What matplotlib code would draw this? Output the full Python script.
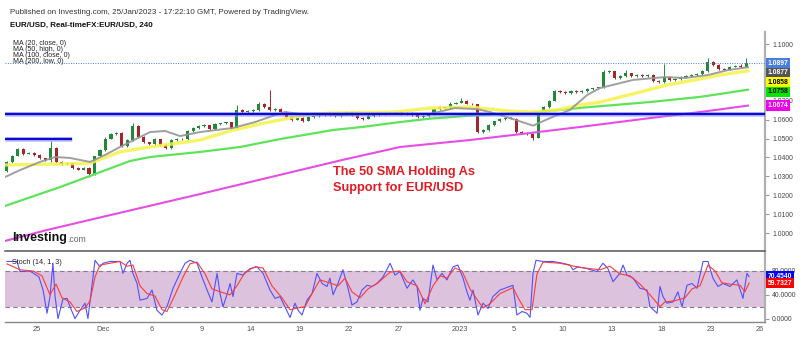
import matplotlib
matplotlib.use("Agg")
import matplotlib.pyplot as plt
from matplotlib.transforms import blended_transform_factory

plt.rcParams['font.family'] = ['Liberation Sans', 'DejaVu Sans']

# ---------------- data ----------------
first_open = 1.0330
candle_start_day = -1.833      # trading-day index of first candle (0 = 25 Nov)
candles_per_day = 3

closes = [
    1.0375, 1.0410, 1.0445, 1.0420, 1.0425, 1.0415, 1.0395, 1.0385, 1.0450, 1.0375,
    1.0365, 1.0370, 1.0345, 1.0335, 1.0345, 1.0310, 1.0405, 1.0440, 1.0500, 1.0525,
    1.0530, 1.0460, 1.0490, 1.0565, 1.0510, 1.0480, 1.0470, 1.0495, 1.0465, 1.0450,
    1.0490, 1.0500, 1.0495, 1.0540, 1.0555, 1.0565, 1.0570, 1.0550, 1.0575, 1.0580,
    1.0585, 1.0555, 1.0650, 1.0640, 1.0645, 1.0650, 1.0685, 1.0665, 1.0650, 1.0655,
    1.0640, 1.0615, 1.0600, 1.0610, 1.0595, 1.0615, 1.0620, 1.0630, 1.0625, 1.0635,
    1.0620, 1.0630, 1.0640, 1.0625, 1.0610, 1.0605, 1.0620, 1.0625, 1.0630, 1.0635,
    1.0635, 1.0640, 1.0630, 1.0635, 1.0625, 1.0615, 1.0620, 1.0630, 1.0655, 1.0665,
    1.0660, 1.0685, 1.0690, 1.0700, 1.0685, 1.0680, 1.0535, 1.0545, 1.0570, 1.0590,
    1.0605, 1.0610, 1.0605, 1.0535, 1.0530, 1.0525, 1.0505, 1.0640, 1.0665, 1.0700,
    1.0750, 1.0745, 1.0740, 1.0750, 1.0745, 1.0750, 1.0760, 1.0765, 1.0770, 1.0850,
    1.0855, 1.0820, 1.0830, 1.0845, 1.0830, 1.0835, 1.0830, 1.0835, 1.0805, 1.0800,
    1.0825, 1.0810, 1.0815, 1.0825, 1.0830, 1.0835, 1.0840, 1.0855, 1.0905, 1.0890,
    1.0870, 1.0865, 1.0880, 1.0885, 1.0880, 1.0897,
]
wick_up_pips = [
    4, 5, 6, 4, 4, 3, 4, 4, 35, 5,
    4, 4, 3, 4, 5, 4, 5, 6, 6, 5,
    4, 4, 6, 15, 4, 5, 4, 6, 4, 4,
    5, 4, 5, 6, 5, 4, 5, 4, 5, 4,
    4, 4, 25, 5, 4, 5, 10, 4, 90, 5,
    4, 4, 5, 4, 4, 6, 4, 5, 4, 6,
    4, 5, 6, 4, 5, 4, 8, 4, 5, 4,
    5, 4, 4, 6, 4, 4, 5, 6, 6, 5,
    4, 6, 5, 12, 4, 5, 4, 5, 6, 5,
    5, 4, 4, 4, 5, 4, 4, 6, 5, 6,
    6, 5, 4, 5, 4, 6, 5, 4, 5, 15,
    6, 4, 5, 15, 4, 5, 4, 5, 4, 4,
    70, 4, 5, 5, 4, 6, 5, 6, 20, 6,
    4, 5, 6, 5, 8, 28,
]
wick_dn_pips = [
    6, 4, 4, 5, 4, 5, 4, 5, 8, 4,
    5, 4, 5, 4, 4, 14, 4, 4, 5, 4,
    5, 6, 4, 4, 5, 4, 5, 4, 5, 6,
    4, 5, 4, 4, 5, 4, 4, 5, 4, 5,
    4, 5, 4, 5, 4, 5, 4, 6, 4, 5,
    5, 6, 5, 4, 6, 4, 5, 4, 5, 4,
    5, 4, 5, 6, 5, 6, 4, 5, 4, 5,
    4, 5, 5, 4, 5, 6, 4, 5, 4, 4,
    5, 4, 5, 4, 5, 4, 8, 6, 4, 5,
    4, 5, 4, 5, 4, 5, 15, 4, 5, 4,
    4, 5, 4, 4, 5, 4, 4, 5, 4, 4,
    5, 4, 5, 4, 5, 4, 5, 4, 5, 4,
    5, 4, 5, 4, 5, 4, 4, 5, 4, 5,
    5, 4, 5, 4, 5, 4,
]

ma20_day = [-1.95, -1.03, 0.18, 1.10, 2.01, 3.23, 4.14, 5.05, 6.27, 6.88, 7.79, 8.70,
            9.92, 11.93, 13.27, 14.49, 15.09, 16.01, 18.44, 21.49, 23.92, 25.44, 26.84,
            27.57, 28.79, 30.19, 31.22, 32.44, 33.48, 34.27, 36.28, 38.22, 39.44, 40.84,
            42.06, 43.27]
ma20 = [1.0296, 1.0333, 1.0376, 1.0402, 1.0397, 1.0376, 1.0413, 1.0455, 1.0508, 1.0534,
        1.0540, 1.0513, 1.0534, 1.0556, 1.0587, 1.0624, 1.0640, 1.0630, 1.0624, 1.0630,
        1.0630, 1.0661, 1.0655, 1.0640, 1.0608, 1.0568, 1.0608, 1.0651, 1.0730, 1.0767,
        1.0810, 1.0825, 1.0820, 1.0836, 1.0862, 1.0877]

ma50_day = [-1.95, 1.40, 3.23, 5.05, 6.88, 9.92, 11.75, 13.57, 14.79, 16.31, 17.83, 21.79,
            23.92, 26.35, 27.57, 28.79, 30.19, 31.65, 33.05, 34.27, 36.28, 38.34, 40.35,
            41.57, 43.27]
ma50 = [1.0360, 1.0365, 1.0370, 1.0429, 1.0455, 1.0492, 1.0540, 1.0577, 1.0598, 1.0624,
        1.0635, 1.0640, 1.0661, 1.0667, 1.0656, 1.0645, 1.0640, 1.0651, 1.0677, 1.0693,
        1.0736, 1.0783, 1.0815, 1.0836, 1.0858]

ma100_day = [-1.95, 1.40, 3.23, 5.66, 6.88, 9.92, 12.36, 14.79, 18.02, 19.78, 22.09, 23.92,
             26.84, 30.01, 33.05, 37.31, 40.35, 43.27]
ma100 = [1.0143, 1.0243, 1.0302, 1.0381, 1.0402, 1.0429, 1.0455, 1.0497, 1.0545, 1.0561,
         1.0587, 1.0605, 1.0624, 1.0635, 1.0662, 1.0693, 1.0720, 1.0758]

ma200_day = [-1.95, 0.61, 3.83, 9.92, 16.01, 18.56, 22.09, 26.35, 30.01, 33.05, 37.31,
             40.35, 43.27]
ma200 = [0.9958, 1.0016, 1.0082, 1.0206, 1.0333, 1.0386, 1.0455, 1.0492, 1.0529, 1.0561,
         1.0608, 1.0640, 1.0674]

support_level = 1.0630
old_level = 1.0500
old_level_end_day = 2.13

stoch_k_day = [
    -1.83, -1.22, -1.03, -0.43, 0.12, 0.37, 0.61, 0.79, 0.97, 1.10,
    1.28, 1.58, 1.83, 2.01, 2.31, 2.62, 2.92, 3.10, 3.53, 3.83,
    4.02, 4.44, 5.05, 5.23, 5.48, 5.66, 5.84, 6.09, 6.27, 6.70,
    7.00, 7.30, 7.61, 7.91, 8.28, 8.70, 9.01, 9.31, 9.74, 10.04,
    10.35, 10.65, 10.96, 11.14, 11.32, 11.56, 11.75, 11.93, 12.17, 12.54,
    12.96, 13.39, 13.76, 14.18, 14.49, 14.79, 15.09, 15.40, 15.70, 15.89,
    16.13, 16.43, 16.74, 17.04, 17.35, 17.65, 17.83, 18.02, 18.32, 18.62,
    18.93, 19.17, 19.48, 19.78, 20.09, 20.39, 20.69, 21.06, 21.49, 21.79,
    22.09, 22.52, 22.88, 23.13, 23.31, 23.49, 23.80, 24.10, 24.35, 24.65,
    24.95, 25.32, 25.62, 25.93, 26.17, 26.35, 26.54, 26.84, 27.15, 27.45,
    27.75, 28.18, 28.97, 29.21, 29.52, 29.82, 30.01, 30.19, 30.37, 30.80,
    31.41, 32.01, 32.44, 32.62, 32.93, 33.48, 34.08, 34.45, 34.75, 35.06,
    35.48, 35.67, 35.91, 36.28, 36.70, 37.13, 37.31, 37.74, 37.92, 38.10,
    38.34, 38.71, 39.01, 39.26, 39.56, 39.87, 40.17, 40.54, 40.84, 41.14,
    41.45, 41.75, 42.18, 42.60, 42.97, 43.21, 43.34,
]
stoch_k = [
    96, 96, 79, 80, 70, 48, 9, 37, 93, 37,
    0, 33, 34, 20, 0, 14, 26, 0, 98, 87,
    93, 96, 96, 76, 93, 98, 76, 59, 31, 34,
    48, 14, 6, 20, 51, 76, 93, 98, 93, 70,
    48, 28, 76, 42, 20, 40, 59, 37, 76, 73,
    84, 87, 76, 48, 34, 37, 20, 2, 26, 14,
    6, 31, 42, 76, 59, 54, 68, 40, 59, 82,
    51, 23, 28, 48, 56, 54, 59, 70, 93, 73,
    79, 51, 65, 54, 14, 34, 28, 90, 65, 76,
    65, 87, 90, 68, 45, 31, 48, 6, 26, 17,
    37, 48, 56, 6, 12, 9, 2, 76, 98, 96,
    96, 93, 90, 82, 87, 84, 79, 93, 84, 62,
    76, 90, 73, 68, 51, 48, 20, 9, 54, 37,
    26, 28, 45, 20, 56, 59, 51, 96, 96, 68,
    54, 59, 54, 65, 34, 76, 70.454,
]
stoch_d_day = [
    -1.83, -1.03, -0.24, 0.30, 0.79, 1.16, 1.52, 2.01, 2.43, 2.92,
    3.23, 3.53, 3.83, 4.44, 5.05, 5.48, 5.84, 6.27, 6.70, 7.18,
    7.61, 7.91, 8.40, 8.89, 9.31, 9.74, 10.23, 10.65, 11.14, 11.75,
    12.17, 12.66, 13.27, 13.76, 14.30, 14.91, 15.40, 15.89, 16.31, 16.74,
    17.22, 17.83, 18.32, 18.75, 19.17, 19.66, 20.15, 20.75, 21.49, 22.09,
    22.52, 23.13, 23.62, 24.10, 24.53, 24.95, 25.44, 25.87, 26.35, 26.84,
    27.15, 27.57, 28.18, 28.97, 29.28, 29.70, 30.13, 30.43, 30.80, 31.83,
    33.05, 34.27, 34.87, 35.48, 36.09, 36.70, 37.31, 37.92, 38.22, 38.83,
    39.44, 39.87, 40.35, 40.84, 41.27, 41.69, 42.18, 42.79, 43.09, 43.34,
]
stoch_d = [
    92, 82, 80, 72, 40, 58, 35, 28, 12, 18,
    30, 70, 90, 93, 96, 88, 90, 55, 42, 38,
    15, 12, 40, 70, 92, 95, 75, 50, 45, 40,
    55, 78, 87, 85, 55, 35, 15, 18, 20, 42,
    65, 60, 55, 68, 45, 35, 50, 60, 78, 80,
    62, 55, 25, 55, 72, 68, 85, 80, 50, 30,
    18, 25, 42, 52, 35, 15, 15, 75, 95, 93,
    86, 82, 88, 75, 72, 58, 40, 20, 28, 30,
    35, 50, 55, 90, 80, 60, 58, 56, 45, 59.7327,
]

date_tick_day = [0, 4, 7, 10, 13, 16, 19, 22, 25.75, 29, 32, 35, 38, 41, 44]
date_tick_label = ['25', 'Dec', '6', '9', '14', '19', '22', '27', '2023',
                   '5', '10', '13', '18', '23', '26']
# price levels whose labels are visible (1.08 / 1.09 are hidden behind value boxes)
price_ticks = [1.00, 1.01, 1.02, 1.03, 1.04, 1.05, 1.06, 1.07, 1.10]
stoch_ticks = [0, 40, 80]

# ---------------- figure ----------------
W, H = 800, 337
fig = plt.figure(figsize=(W / 100, H / 100), dpi=100)
fig.patch.set_facecolor('white')


def fx(px):
    return px / W


def fy(py):
    return 1 - py / H


ax = fig.add_axes([fx(5), fy(251), fx(765) - fx(5), fy(32) - fy(251)])
ax2 = fig.add_axes([fx(5), fy(322), fx(765) - fx(5), fy(251) - fy(322)], sharex=ax)

x_lo, x_hi = -1.948, 44.31
ax.set_xlim(x_lo, x_hi)
ax.set_ylim(0.99048, 1.10635)
ax2.set_ylim(-5.7, 113.6)

# candles
up_col, dn_col = '#23883a', '#a3262a'
n = len(closes)
tt = [candle_start_day + i / candles_per_day for i in range(n)]
opens = [first_open] + closes[:-1]
highs = [max(o, c) + u * 1e-4 for o, c, u in zip(opens, closes, wick_up_pips)]
lows = [min(o, c) - d * 1e-4 for o, c, d in zip(opens, closes, wick_dn_pips)]
cols = [up_col if c >= o else dn_col for o, c in zip(opens, closes)]
ax.vlines(tt, lows, highs, colors=cols, lw=0.7, zorder=2)
ax.bar(tt, [max(abs(c - o), 0.00012) for o, c in zip(opens, closes)],
       bottom=[min(o, c) for o, c in zip(opens, closes)], width=0.19,
       color=cols, linewidth=0, zorder=3)

# moving averages
ax.plot(ma200_day, ma200, color='#e54de5', lw=1.5, zorder=4)
ax.plot(ma100_day, ma100, color='#5fe35a', lw=1.6, zorder=4)
ax.plot(ma50_day, ma50, color='#f5f24a', lw=2.4, alpha=0.85, zorder=4)
ax.plot(ma20_day, ma20, color='#959595', lw=1.4, alpha=0.9, zorder=4)

# horizontal levels
ax.axhline(support_level, color='#8c8cff', lw=3.6, alpha=0.45, zorder=5)
ax.axhline(support_level, color='#0a0ad0', lw=1.7, zorder=5)
ax.hlines(old_level, x_lo, old_level_end_day, color='#8c8cff', lw=3.6, alpha=0.45, zorder=5)
ax.hlines(old_level, x_lo, old_level_end_day, color='#0a0ad0', lw=1.7, zorder=5)
last_price = closes[-1]
ax.axhline(last_price, color='#4a7de0', lw=0.7, ls=(0, (1, 1.5)), zorder=5)

# price axis styling
for s in ['top', 'left', 'bottom']:
    ax.spines[s].set_visible(False)
ax.spines['right'].set_color('#b0b0b0')
ax.spines['right'].set_linewidth(1.6)
ax.yaxis.tick_right()
ax.set_yticks(price_ticks)
ax.set_yticklabels(['%.4f' % v for v in price_ticks])
ax.tick_params(axis='y', length=3, width=0.8, color='#999999', labelsize=4.9,
               labelcolor='#444444', pad=2)
ax.tick_params(axis='x', bottom=False, labelbottom=False)

# right-hand value boxes (stacked to avoid overlap)
tr = blended_transform_factory(ax.transAxes, ax.transData)
box_vals = [closes[-1], ma20[-1], ma50[-1], ma100[-1], ma200[-1]]
box_face = ['#4a7de0', '#555555', '#ffff00', '#00e600', '#ee00ee']
box_text = ['white', 'white', 'black', 'black', 'white']
min_gap = 0.00503
prev = None
for v, fc, tc in zip(box_vals, box_face, box_text):
    pos = v if prev is None else min(v, prev - min_gap)
    prev = pos
    ax.text(1.0035, pos, '%.4f' % v, transform=tr, ha='left', va='center',
            fontsize=4.9, fontweight='bold', color=tc, zorder=10, clip_on=False,
            bbox=dict(boxstyle='square,pad=0.28', fc=fc, ec='none'))

# stochastic panel
ax2.axhspan(20, 80, color='#dcc2dc', lw=0, zorder=0)
for lv in (20, 80):
    ax2.axhline(lv, color='#8a7a8a', lw=0.8, ls=(0, (4, 3)), zorder=1)
ax2.plot(stoch_k_day, stoch_k, color='#5050ff', lw=0.8, zorder=3)
ax2.plot(stoch_d_day, stoch_d, color='#ff3a3a', lw=0.8, zorder=3)
ax2.spines['left'].set_visible(False)
ax2.spines['top'].set_color('#555555')
ax2.spines['top'].set_linewidth(1.1)
ax2.spines['bottom'].set_color('#888888')
ax2.spines['bottom'].set_linewidth(1.0)
ax2.spines['right'].set_color('#b0b0b0')
ax2.spines['right'].set_linewidth(1.6)
ax2.yaxis.tick_right()
ax2.set_yticks(stoch_ticks)
ax2.set_yticklabels(['%.4f' % v for v in stoch_ticks])
ax2.tick_params(axis='y', length=3, width=0.8, color='#999999', labelsize=4.9,
                labelcolor='#444444', pad=2)
ax2.set_xticks(date_tick_day)
ax2.set_xticklabels(date_tick_label)
ax2.tick_params(axis='x', length=0, labelsize=5.4, labelcolor='#555555', pad=3)

tr2 = blended_transform_factory(ax2.transAxes, ax2.transData)
for v, fc in zip([stoch_k[-1], stoch_d[-1]], ['#0000ff', '#ff0000']):
    ax2.text(1.0035, v, '%.4f' % v, transform=tr2, ha='left', va='center',
             fontsize=4.9, fontweight='bold', color='white', zorder=10, clip_on=False,
             bbox=dict(boxstyle='square,pad=0.28', fc=fc, ec='none'))

# ---------------- texts ----------------
fig.text(fx(10), fy(13), 'Published on Investing.com, 25/Jan/2023 - 17:22:10 GMT, Powered by TradingView.',
         fontsize=5.8, color='#333333', ha='left', va='center')
fig.text(fx(10), fy(25), 'EUR/USD, Real-timeFX:EUR/USD, 240',
         fontsize=5.8, fontweight='bold', color='#111111', ha='left', va='center')
for i, s in enumerate(['MA (20, close, 0)', 'MA (50, high, 0)', 'MA (100, close, 0)', 'MA (200, low, 0)']):
    fig.text(fx(13), fy(43.5 + 6 * i), s, fontsize=5.0, color='#222222', ha='left', va='center')

fig.text(fx(12), fy(238), 'Investing', fontsize=9, fontweight='bold', color='#111111',
         ha='left', va='center')
fig.text(fx(67), fy(239.5), '.com', fontsize=6.2, color='#666666', ha='left', va='center')
fig.text(fx(12), fy(262), 'Stoch (14, 1, 3)', fontsize=5.2, color='#222222',
         ha='left', va='center')

fig.text(fx(333), fy(172), 'The 50 SMA Holding As', fontsize=9.2, fontweight='bold',
         color='#e31b23', ha='left', va='center')
fig.text(fx(333), fy(188), 'Support for EUR/USD', fontsize=9.2, fontweight='bold',
         color='#e31b23', ha='left', va='center')

fig.savefig('out.png', dpi=100, facecolor='white')
